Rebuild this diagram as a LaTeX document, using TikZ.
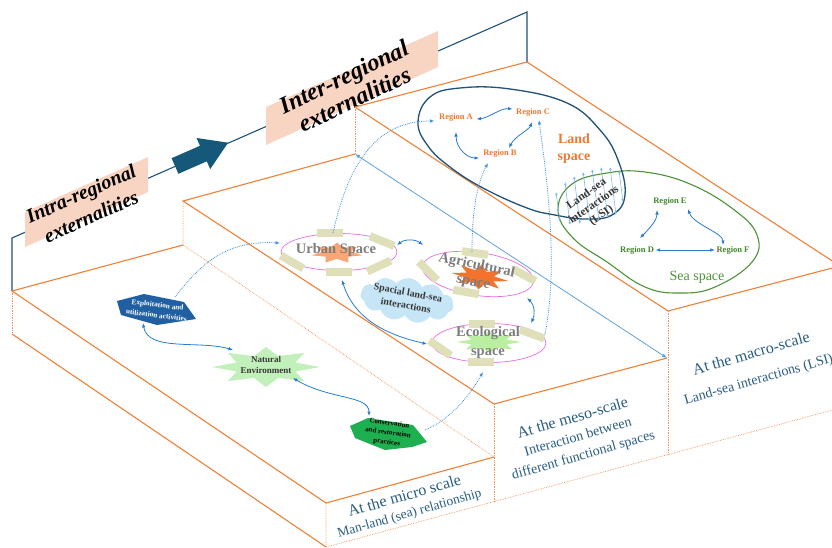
\documentclass[tikz,border=0pt]{standalone}
\usepackage{fontspec}
\setmainfont{Liberation Serif}
\usetikzlibrary{arrows.meta,shapes.geometric,shapes.symbols,calc}

\definecolor{edgeorange}{RGB}{238,128,56}
\definecolor{stairblue}{RGB}{30,82,118}
\definecolor{arrowteal}{RGB}{22,88,122}
\definecolor{flowblue}{RGB}{40,124,204}
\definecolor{linkblue}{RGB}{60,146,220}
\definecolor{lineblue}{RGB}{96,160,220}
\definecolor{hatchblue}{RGB}{120,186,234}
\definecolor{peach}{RGB}{248,212,194}
\definecolor{labelteal}{RGB}{40,92,128}
\definecolor{khaki}{RGB}{223,223,186}
\definecolor{ringpink}{RGB}{228,110,228}
\definecolor{landorange}{RGB}{236,120,50}
\definecolor{seagreen}{RGB}{64,136,44}
\definecolor{loopgreen}{RGB}{76,146,56}
\definecolor{spacegray}{RGB}{125,125,125}
\definecolor{urbanstar}{RGB}{248,166,118}
\definecolor{agristar}{RGB}{242,114,46}
\definecolor{ecostar}{RGB}{186,238,160}
\definecolor{natstar}{RGB}{194,240,186}
\definecolor{exploitblue}{RGB}{32,96,162}
\definecolor{conservgreen}{RGB}{30,176,80}
\definecolor{cloudblue}{RGB}{198,230,248}
\definecolor{darktext}{RGB}{55,55,55}

\newcommand\fsz[2]{\fontsize{#1}{#2}\selectfont}

\tikzset{
  solidedge/.style={draw=edgeorange, line width=1.1pt},
  hiddenedge/.style={draw=edgeorange!85, line width=0.7pt, densely dotted},
  stairline/.style={draw=stairblue, line width=1.1pt},
  flow/.style={draw=flowblue, line width=0.8pt,
    {Latex[length=4.5pt,width=3.6pt]}-{Latex[length=4.5pt,width=3.6pt]}},
  longflow/.style={draw=lineblue, line width=0.8pt,
    {Latex[length=5pt,width=4pt]}-{Latex[length=5pt,width=4pt]}},
  link/.style={draw=linkblue, line width=0.8pt, densely dotted,
    -{Latex[length=4.5pt,width=3.6pt]}},
  hatch/.style={draw=hatchblue, line width=0.6pt,
    {Latex[length=3pt,width=2.6pt]}-{Latex[length=3pt,width=2.6pt]}},
  ring/.style={ellipse, draw=ringpink, line width=0.7pt, inner sep=0pt},
  band/.style={fill=khaki, minimum width=26pt, minimum height=8pt, inner sep=0pt},
  spacetext/.style={text=spacegray, font=\fsz{14.5}{18}\bfseries, align=center, inner sep=1pt},
  landregion/.style={text=landorange, font=\fsz{8.5}{10}\bfseries, inner sep=1.5pt},
  searegion/.style={text=seagreen, font=\fsz{8.5}{10}\bfseries, inner sep=1.5pt},
  scaletext/.style={text=labelteal, align=center, rotate=16, inner sep=1pt},
  bannertext/.style={text=black, align=center, inner sep=1pt},
  blob/.style={star, inner sep=0pt},
}

\begin{document}
\begin{tikzpicture}[x=1pt,y=-1pt]
\useasboundingbox (0,0) rectangle (832,547);
\begin{scope}
\clip (0,0) rectangle (832,547);

% ---------- corners of the three slabs ----------
\coordinate (m1)  at (12,291);
\coordinate (m1b) at (12,334);
\coordinate (m2)  at (183,245);
\coordinate (s1)  at (183,201);
\coordinate (s2)  at (355,154);
\coordinate (M1)  at (355,107);
\coordinate (M2)  at (527,62);
\coordinate (mf1) at (326,503);
\coordinate (mf2) at (494,457);
\coordinate (sf1) at (494,404);
\coordinate (sf2) at (667,358);
\coordinate (Mf1) at (668,311);
\coordinate (Mf2) at (840,266);
\coordinate (b0)  at (326,547);
\coordinate (b1)  at (494,501);
\coordinate (b2)  at (668,454);
\coordinate (b3)  at (840,408);
\coordinate (st0) at (12,238);
\coordinate (st1) at (527,12);

% ---------- scale staircase line and block arrow ----------
\draw[stairline] (m1) -- (st0) -- (st1) -- (M2);
\begin{scope}[shift={(175,166)}, rotate=23.7]
  \fill[arrowteal] (0,-8.5) -- (31,-8.5) -- (31,-17) -- (58,0) -- (31,17) -- (31,8.5) -- (0,8.5) -- cycle;
\end{scope}

% ---------- banners ----------
\fill[peach] (25,212) -- (148,157) -- (148,192) -- (25,247) -- cycle;
\fill[peach] (266,107) -- (438,31) -- (438,67) -- (266,145) -- cycle;
\node[bannertext, rotate=24, font=\fsz{20}{25}\bfseries\itshape] (intra) at (86,205) {Intra-regional\\externalities};
\node[bannertext, rotate=25.5, font=\fsz{24}{25}\bfseries\itshape] (inter) at (349,88) {Inter-regional\\externalities};

% ---------- slab edges ----------
\draw[hiddenedge] (m1) -- (m1b);
\draw[hiddenedge] (s1) -- (m2) -- (mf2);
\draw[hiddenedge] (M1) -- (s2);
\draw[hiddenedge] (mf1) -- (b0) -- (b3);
\draw[hiddenedge] (sf1) -- (b1);
\draw[hiddenedge] (Mf1) -- (b2);
\draw[solidedge] (m2) -- (m1) -- (mf1) -- (mf2);
\draw[solidedge] (m1b) -- (b0);
\draw[solidedge] (s2) -- (s1) -- (sf1) -- (sf2);
\draw[solidedge] (M1) -- (M2) -- (Mf2) -- (Mf1) -- cycle;
\draw[longflow] (s2) -- (sf2);

% ---------- macro scale: land and sea ----------
\draw[loopgreen, line width=1.1pt] plot[smooth cycle, tension=0.7] coordinates {
  (558,210) (572,184) (607,173) (645,172) (690,184) (733,209) (757,235)
  (752,262) (715,287) (680,293) (645,287) (607,262) (573,238)};
\draw[stairblue, line width=1.3pt] plot[smooth cycle, tension=0.7] coordinates {
  (418,122) (430,97) (460,88) (510,89) (567,103) (600,130) (618,160)
  (625,195) (612,215) (585,219) (555,215) (527,208) (483,188) (450,167) (428,146)};

\foreach \xa/\ya/\xb/\yb in {556/192/560/222, 565/182/570/225, 574/176/580/224,
  583/172/590/222, 592/169/599/220, 601/167/608/218, 610/167/616/215, 619/170/623/202}
  \draw[hatch] (\xa,\ya) -- (\xb,\yb);

\node[text=darktext, font=\fsz{11.5}{13}\bfseries, align=center, rotate=35, inner sep=0pt] (lsi) at (594,205) {Land-sea\\interactions\\(LSI)};

\node[landregion] (regA) at (456,117) {Region A};
\node[landregion] (regC) at (533,112) {Region C};
\node[landregion] (regB) at (500,153) {Region B};
\node[text=landorange, font=\fsz{14}{17}\bfseries, align=center, inner sep=0pt] (landlbl) at (574,149) {Land\\space};

\node[searegion] (regE) at (670,201) {Region E};
\node[searegion] (regD) at (637,250) {Region D};
\node[searegion] (regF) at (733,250) {Region F};
\node[text=loopgreen, font=\fsz{14}{16}, inner sep=0pt] (sealbl) at (697,277) {Sea space};

\draw[flow] ([shift={(2,2)}]regA.east) .. controls +(12,-1) and +(-12,-1) .. ([shift={(-2,-3)}]regC.west);
\draw[flow] ([shift={(0,15)}]regA.center) .. controls +(0,16) and +(-12,0) .. ([shift={(-21,5)}]regB.center);
\draw[flow] ([shift={(9,-5)}]regB.center) .. controls +(6,-12) and +(-3,8) .. ([shift={(-1,10)}]regC.center);
\draw[flow] (regD.east) -- (regF.west);
\draw[flow] ([shift={(3,-12)}]regD.center) .. controls +(10,-10) and +(0,10) .. ([shift={(-13,9)}]regE.center);
\draw[flow] ([shift={(18,8)}]regE.center) .. controls +(5,15) and +(0,-12) .. ([shift={(-10,-5)}]regF.center);

% ---------- meso scale: functional spaces ----------
\node[ring, minimum width=116pt, minimum height=37pt] (urban) at (339,252) {};
\node[ring, minimum width=112pt, minimum height=43pt, rotate=-8] (agri) at (478,274) {};
\node[ring, minimum width=114pt, minimum height=39pt] (eco) at (489,343) {};

\begin{scope}[shift={(337,253)}, xscale=2.5, transform shape]
  \node[blob, star points=7, star point ratio=1.8, minimum size=21pt, fill=urbanstar] (urbanblob) {};
\end{scope}
\begin{scope}[shift={(480,277)}, rotate=-8, xscale=2.3, transform shape]
  \node[blob, star points=8, star point ratio=1.9, minimum size=25pt, fill=agristar] (agriblob) {};
\end{scope}
\begin{scope}[shift={(489,342)}, xscale=3.1, transform shape]
  \node[blob, star points=8, star point ratio=1.7, minimum size=21pt, fill=ecostar] (ecoblob) {};
\end{scope}

\node[band] (ub1) at (330,233) {};
\node[band, rotate=-22] (ub2) at (382,241) {};
\node[band, rotate=-30] (ub3) at (292,262) {};
\node[band] (ub4) at (339,272) {};
\node[band, rotate=25] (ub5) at (379,266) {};

\node[band, rotate=-8] (ab1) at (475,253) {};
\node[band, rotate=-45] (ab2) at (428,271) {};
\node[band, rotate=-10] (ab3) at (466,292) {};
\node[band, rotate=-28] (ab4) at (524,275) {};

\node[band] (eb1) at (482,324) {};
\node[band, rotate=-20] (eb2) at (532,334) {};
\node[band, rotate=-35] (eb3) at (440,348) {};
\node[band] (eb4) at (481,362) {};

\node[spacetext] (urbantxt) at (336,250) {Urban Space};
\node[spacetext, rotate=-12, font=\fsz{14.5}{17}\bfseries] (agritxt) at (475,274) {Agricultural\\space};
\node[spacetext, font=\fsz{14.5}{19}\bfseries] (ecotxt) at (488,343) {Ecological\\space};

\node[cloud, cloud puffs=11, cloud puff arc=115, aspect=2.2, fill=cloudblue,
      minimum width=94pt, minimum height=44pt, inner sep=0pt, rotate=-8] (cloud) at (407,300) {};
\node[text=darktext, font=\fsz{10}{13}\bfseries, align=center, rotate=-10, inner sep=0pt] (spacial) at (407,299) {Spacial land-sea\\interactions};

\draw[flow] ([shift={(58,-7)}]urban.center) .. controls +(8,-6) and +(-8,-6) .. ([shift={(-55,-29)}]agri.center);
\draw[flow] ([shift={(3,28)}]urban.center) .. controls +(13,42) and +(-35,-8) .. ([shift={(-62,1)}]eco.center);
\draw[flow] ([shift={(49,24)}]agri.center) .. controls +(8,7) and +(4,-8) .. ([shift={(42,-20)}]eco.center);

% ---------- micro scale: man-land relationship ----------
\begin{scope}[shift={(157,310)}]
  \fill[exploitblue] (-40,-9) -- (-13,-16) -- (27,-8) -- (39,9) -- (0,15) -- (-36,5) -- cycle;
  \node[text=white, font=\fsz{7.3}{10.5}\bfseries, align=center, rotate=-7, inner sep=0pt] (exploit) at (0,0) {Exploitation and\\utilization activities};
\end{scope}
\begin{scope}[shift={(266,367)}, xscale=2.7, transform shape]
  \node[blob, star points=8, star point ratio=1.7, minimum size=40pt, fill=natstar] (natblob) {};
\end{scope}
\node[text=darktext, font=\fsz{9}{11.5}\bfseries, align=center, inner sep=0pt] (natural) at (266,365) {Natural\\Environment};
\begin{scope}[shift={(388,433)}]
  \fill[conservgreen] (-38,-7) -- (-20,-15) -- (25,-8) -- (39,9) -- (24,14) -- (-3,17) -- (-33,5) -- cycle;
  \node[text=black, font=\fsz{7}{9.5}\bfseries, align=center, rotate=-8, inner sep=0pt] (conserv) at (0,0) {Conservation\\and restoration\\practices};
\end{scope}

\draw[flow] ([shift={(-14,13)}]exploit.center) .. controls +(5,29) and +(-33,-10) .. ([shift={(-33,-15)}]natural.center);
\draw[flow] ([shift={(27,13)}]natural.center) .. controls +(37,22) and +(0,-21) .. ([shift={(-19,-17)}]conserv.center);

% ---------- links between scales ----------
\draw[link] ([shift={(18,-13)}]exploit.center) .. controls +(25,-32) and +(-55,-3) .. ([shift={(-59,-9)}]urban.center);
\draw[link] ([shift={(37,-3)}]conserv.center) .. controls +(25,-10) and +(-13,23) .. ([shift={(-6,29)}]eco.center);
\draw[link] ([shift={(-6,-19)}]urban.center) .. controls +(17,-78) and +(-53,0) .. ([shift={(-3,4)}]regA.west);
\draw[link] ([shift={(-6,-22)}]agri.center) .. controls +(0,-52) and +(-8,15) .. ([shift={(-12,10)}]regB.center);
\draw[link] ([shift={(56,-9)}]eco.center) .. controls +(15,-75) and +(5,40) .. ([shift={(6,8)}]regC.center);

% ---------- scale labels ----------
\node[scaletext, font=\fsz{13.5}{17}] (microlbl) at (407,505)
  {\fsz{16}{17}At the micro scale\\Man-land (sea) relationship};
\node[scaletext, font=\fsz{14}{19}] (mesolbl) at (578,437)
  {\fsz{16}{21}At the meso-scale\\Interaction between\\different functional spaces};
\node[scaletext, font=\fsz{14}{26}] (macrolbl) at (755,367)
  {\fsz{16}{26}At the macro-scale\\Land-sea interactions (LSI)};

\end{scope}
\end{tikzpicture}
\end{document}
